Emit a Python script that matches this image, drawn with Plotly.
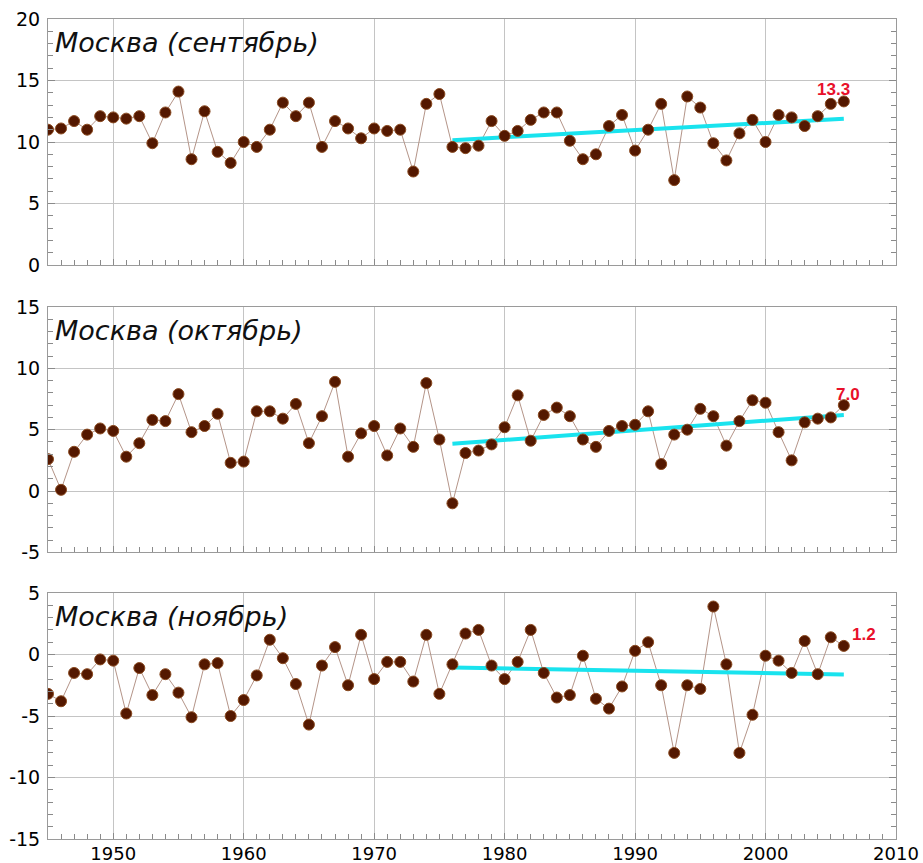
import plotly.graph_objects as go
from plotly.subplots import make_subplots

years = list(range(1945, 2007))

sep_vals = [11.0, 11.1, 11.7, 11.0, 12.1, 12.0, 11.9, 12.1, 9.9, 12.4,
            14.1, 8.6, 12.5, 9.2, 8.3, 10.0, 9.6, 11.0, 13.2, 12.1,
            13.2, 9.6, 11.7, 11.1, 10.3, 11.1, 10.9, 11.0, 7.6, 13.1,
            13.9, 9.6, 9.5, 9.7, 11.7, 10.5, 10.9, 11.8, 12.4, 12.4,
            10.1, 8.6, 9.0, 11.3, 12.2, 9.3, 11.0, 13.1, 6.9, 13.7,
            12.8, 9.9, 8.5, 10.7, 11.8, 10.0, 12.2, 12.0, 11.3, 12.1,
            13.1, 13.3]

oct_vals = [2.6, 0.1, 3.2, 4.6, 5.1, 4.9, 2.8, 3.9, 5.8, 5.7,
            7.9, 4.8, 5.3, 6.3, 2.3, 2.4, 6.5, 6.5, 5.9, 7.1,
            3.9, 6.1, 8.9, 2.8, 4.7, 5.3, 2.9, 5.1, 3.6, 8.8,
            4.2, -1.0, 3.1, 3.3, 3.8, 5.2, 7.8, 4.1, 6.2, 6.8,
            6.1, 4.2, 3.6, 4.9, 5.3, 5.4, 6.5, 2.2, 4.6, 5.0,
            6.7, 6.1, 3.7, 5.7, 7.4, 7.2, 4.8, 2.5, 5.6, 5.9,
            6.0, 7.0]

nov_vals = [-3.2, -3.8, -1.5, -1.6, -0.4, -0.5, -4.8, -1.1, -3.3, -1.6,
            -3.1, -5.1, -0.8, -0.7, -5.0, -3.7, -1.7, 1.2, -0.3, -2.4,
            -5.7, -0.9, 0.6, -2.5, 1.6, -2.0, -0.6, -0.6, -2.2, 1.6,
            -3.2, -0.8, 1.7, 2.0, -0.9, -2.0, -0.6, 2.0, -1.5, -3.5,
            -3.3, -0.1, -3.6, -4.4, -2.6, 0.3, 1.0, -2.5, -8.0, -2.5,
            -2.8, 3.9, -0.8, -8.0, -4.9, -0.1, -0.5, -1.5, 1.1, -1.6,
            1.4, 0.7]

trend_years = [1976, 2006]
trend_sep = [10.15, 11.9]
trend_oct = [3.85, 6.2]
trend_nov = [-1.05, -1.63]

titles = ["Москва (сентябрь)", "Москва (октябрь)", "Москва (ноябрь)"]
last_labels = ["13.3", "7.0", "1.2"]

y_tickvals = [[0, 5, 10, 15, 20], [-5, 0, 5, 10, 15], [-15, -10, -5, 0, 5]]
y_ticktext = [["0", "5", "10", "15", "20"],
              ["-5", "0", "5", "10", "15"],
              ["-15", "-10", "-5", "0", "5"]]
x_tickvals = [1950, 1960, 1970, 1980, 1990, 2000, 2010]
x_ticktext = ["1950", "1960", "1970", "1980", "1990", "2000", "2010"]
x_range = [1945, 2010]

series = [sep_vals, oct_vals, nov_vals]
trends = [trend_sep, trend_oct, trend_nov]
label_shift = [(-10, 12), (4, 11), (20, 11)]
domains = [[0.7, 1.0], [0.3495, 0.6488], [0.0, 0.3]]

fig = make_subplots(rows=3, cols=1)

y_font = dict(family="DejaVu Sans", size=19, color="#000000")
x_font = dict(family="DejaVu Sans", size=18, color="#000000")

for i in range(3):
    r = i + 1
    fig.add_trace(go.Scatter(
        x=years, y=series[i], mode="lines",
        line=dict(color="#b49488", width=1),
        showlegend=False, hoverinfo="skip"), row=r, col=1)
    fig.add_trace(go.Scatter(
        x=trend_years, y=trends[i], mode="lines",
        line=dict(color="#19e3ee", width=4),
        showlegend=False), row=r, col=1)
    fig.add_trace(go.Scatter(
        x=years, y=series[i], mode="markers",
        marker=dict(color="#541800", size=11,
                    line=dict(color="#8a4a20", width=1)),
        showlegend=False), row=r, col=1)

    xname = "xaxis" if r == 1 else f"xaxis{r}"
    yname = "yaxis" if r == 1 else f"yaxis{r}"
    xref = "x" if r == 1 else f"x{r}"
    yref = "y" if r == 1 else f"y{r}"

    fig.layout[xname].update(
        range=x_range, domain=[0, 1], automargin=False,
        tickmode="array", tickvals=x_tickvals, ticktext=x_ticktext,
        showgrid=True, gridcolor="#c4c4c4", gridwidth=1,
        zeroline=False, showline=True, linecolor="#9a9a9a", linewidth=1,
        mirror=True, ticks="inside", ticklen=6, tickcolor="#8a8a8a",
        showticklabels=(r == 3),
        tickfont=x_font, ticklabelstandoff=-2,
        minor=dict(dtick=1, tick0=1945, ticks="inside", ticklen=5,
                   tickcolor="#8a8a8a", showgrid=False),
    )
    fig.layout[yname].update(
        range=[y_tickvals[i][0], y_tickvals[i][-1]],
        domain=domains[i], automargin=False,
        tickmode="array", tickvals=y_tickvals[i], ticktext=y_ticktext[i],
        showgrid=True, gridcolor="#c4c4c4", gridwidth=1,
        zeroline=False, showline=True, linecolor="#9a9a9a", linewidth=1,
        mirror="ticks", ticks="inside", ticklen=7, tickcolor="#8a8a8a",
        tickfont=y_font,
        ticklabelstandoff=3,
        minor=dict(dtick=1, tick0=0, ticks="inside", ticklen=5,
                   tickcolor="#8a8a8a", showgrid=False),
    )

    fig.add_annotation(
        text=titles[i], xref=f"{xref} domain", yref=f"{yref} domain",
        x=0.006, y=0.906, xanchor="left", yanchor="middle", showarrow=False,
        font=dict(family="DejaVu Sans", size=27, color="#111111",
                  style="italic"))

    dx, dy = label_shift[i]
    fig.add_annotation(
        text=f"<b>{last_labels[i]}</b>", xref=xref, yref=yref,
        x=years[-1], y=series[i][-1], xshift=dx, yshift=dy,
        showarrow=False,
        font=dict(family="Liberation Sans", size=17, color="#e8102a"))

fig.update_layout(
    width=923, height=863,
    margin=dict(l=48, r=27, t=19, b=24),
    paper_bgcolor="white", plot_bgcolor="white",
    showlegend=False,
)

fig.write_html("out.html")
